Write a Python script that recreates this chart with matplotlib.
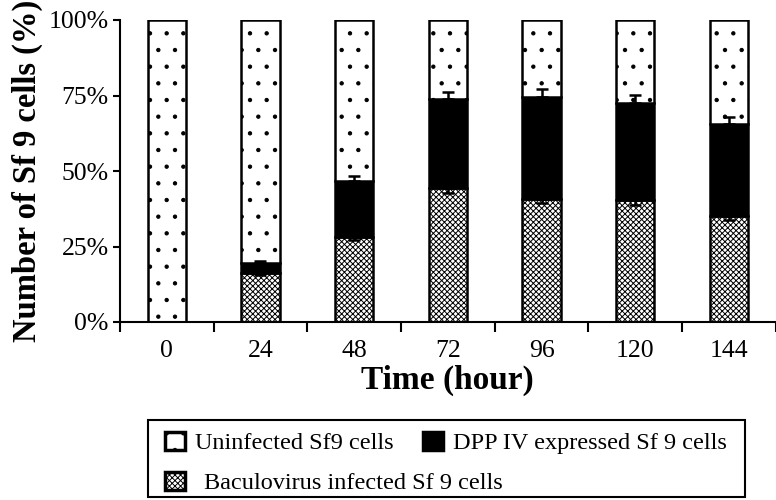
import numpy as np
import matplotlib.pyplot as plt
from matplotlib.patches import Rectangle
from matplotlib.ticker import PercentFormatter

plt.rcParams['font.family'] = ['Liberation Serif', 'DejaVu Serif']
plt.rcParams['hatch.linewidth'] = 0.7

times = ['0', '24', '48', '72', '96', '120', '144']
baculo = [0.0, 16.2, 28.3, 44.3, 40.6, 40.4, 35.1]
baculo_err = [0.0, 0.8, 1.0, 1.7, 1.3, 1.6, 1.3]
dpp = [0.0, 3.3, 18.4, 29.5, 33.9, 32.1, 30.5]
dpp_err = [0.0, 0.8, 1.6, 2.4, 2.7, 2.7, 2.4]
uninf = [100 - b - d for b, d in zip(baculo, dpp)]

x = np.arange(len(times))
w = 0.41

fig = plt.figure(figsize=(7.76, 5.0), dpi=100)
ax = fig.add_axes([0.1546, 0.356, 0.845, 0.604])

b1 = ax.bar(x, baculo, w, color='white', edgecolor='black', hatch='xxxxxx', linewidth=1.8,
            label='Baculovirus infected Sf 9 cells')
top = np.array(baculo) + np.array(dpp)
b2 = ax.bar(x, dpp, w, bottom=baculo, color='black', edgecolor='black', linewidth=1.8,
            label='DPP IV expressed Sf 9 cells')
b3 = ax.bar(x, uninf, w, bottom=top, color='white', edgecolor='black', hatch='.', linewidth=1.8,
            label='Uninfected Sf9 cells')

# error bars (single sided)
m = np.array(dpp) > 0
ax.errorbar(x[m], top[m], yerr=[np.zeros(m.sum()), np.array(dpp_err)[m]], fmt='none',
            ecolor='black', elinewidth=1.8, capsize=4.5, capthick=1.8)
ax.errorbar(x[m], np.array(baculo)[m], yerr=[np.array(baculo_err)[m], np.zeros(m.sum())],
            fmt='none', ecolor='black', elinewidth=1.8, capsize=4.5, capthick=1.8)

ax.set_xlim(-0.5, len(times) - 0.5)
ax.set_ylim(0, 100)
ax.set_yticks([0, 25, 50, 75, 100])
ax.yaxis.set_major_formatter(PercentFormatter(decimals=0))
ax.set_xticks(x)
ax.set_xticklabels(times)
ax.set_xticks(np.arange(len(times) + 1) - 0.5, minor=True)
ax.tick_params(axis='x', which='major', length=0, pad=13, labelsize=18.5)
ax.tick_params(axis='x', which='minor', length=7, width=1.5)
ax.tick_params(axis='y', length=5, width=1.5, labelsize=18.5, pad=3)
for s in ['top', 'right']:
    ax.spines[s].set_visible(False)
for s in ['left', 'bottom']:
    ax.spines[s].set_linewidth(1.5)

ax.set_xlabel('Time (hour)', fontsize=24, fontweight='bold', labelpad=2)
ax.set_ylabel('Number of Sf 9 cells (%)', fontsize=23.5, fontweight='bold', labelpad=4)

# legend: row 1 two entries, row 2 one entry, inside one frame
kw = dict(fontsize=17.5, frameon=False, handlelength=0.82, handleheight=0.82,
          columnspacing=1.2, borderpad=0, borderaxespad=0)
leg1 = fig.legend(handles=[b3, b2], ncol=2, loc='upper left', bbox_to_anchor=(0.2126, 0.137),
                  handletextpad=0.41, **kw)
leg2 = fig.legend(handles=[b1], ncol=1, loc='upper left', bbox_to_anchor=(0.2126, 0.057),
                  handletextpad=0.8, **kw)
for leg in (leg1, leg2):
    for h in leg.legend_handles:
        h.set_linewidth(2.5)
fig.patches.append(Rectangle((0.191, 0.006), 0.769, 0.154, transform=fig.transFigure,
                             fill=False, edgecolor='black', linewidth=1.5))

fig.savefig('out.png', dpi=100)
